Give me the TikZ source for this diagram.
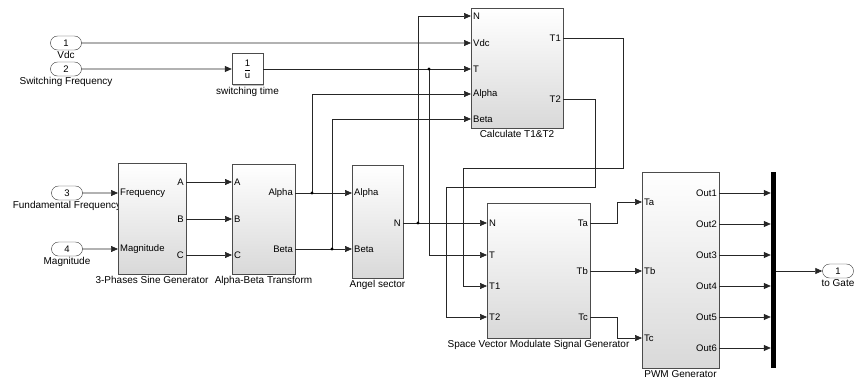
\documentclass[tikz,border=0pt]{standalone}
\usepackage{amsmath}
\usepackage{fontspec}
\setmainfont{Liberation Sans}
\usetikzlibrary{arrows.meta,positioning,shapes.misc,shadows}

\begin{document}
\begin{tikzpicture}[
    x=1pt, y=-1pt,
    blk/.style={rectangle, draw=black!70, thin, top color=white, bottom color=gray!30, drop shadow={shadow xshift=1.2pt, shadow yshift=-1.2pt, fill=black!50}, inner sep=0pt},
    gain/.style={rectangle, draw=black!70, thin, fill=white, drop shadow={shadow xshift=1.2pt, shadow yshift=-1.2pt, fill=black!50}, inner sep=0pt, minimum width=31pt, minimum height=31pt, font=\fontsize{9.5}{10}\selectfont},
    inport/.style={rounded rectangle, draw=black!80, thin, fill=white, minimum width=31pt, minimum height=14pt, inner sep=0pt, font=\fontsize{9.5}{10}\selectfont},
    pin/.style={anchor=west, inner sep=2pt, font=\fontsize{9.5}{10}\selectfont},
    pout/.style={anchor=east, inner sep=2pt, font=\fontsize{9.5}{10}\selectfont},
    lbl/.style={inner sep=1pt, font=\fontsize{10}{12}\selectfont},
    sig/.style={draw=black!85, line width=0.7pt, -{Triangle[length=7pt,width=6pt]}}
]
\useasboundingbox (0,0) rectangle (855,381);

% inports
\node[inport] (in1) at (66,43) {1};
\node[lbl, below=0pt of in1] (in1Lbl) {Vdc};
\node[inport] (in2) at (66,69) {2};
\node[lbl, below=0pt of in2] (in2Lbl) {Switching Frequency};
\node[inport] (in3) at (67,193) {3};
\node[lbl, below=0pt of in3] (in3Lbl) {Fundamental Frequency};
\node[inport] (in4) at (67,249) {4};
\node[lbl, below=0pt of in4] (in4Lbl) {Magnitude};
\node[inport] (outG) at (838,271) {1};
\node[lbl, below=0pt of outG] (outGLbl) {to Gate};

% blocks
\node[gain] (inv) at (247.5,69) {$\dfrac{\text{1}}{\text{u}}$};
\node[lbl, below=1pt of inv] (invLbl) {switching time};
\node[blk, minimum width=92pt, minimum height=120pt] (calc) at (517,68) {};
\node[lbl, below=1pt of calc] (calcLbl) {Calculate T1\&T2};
\node[blk, minimum width=68pt, minimum height=111pt] (sg) at (152,218.5) {};
\node[lbl, below=1pt of sg] (sgLbl) {3-Phases Sine Generator};
\node[blk, minimum width=63pt, minimum height=110pt] (ab) at (263.5,219) {};
\node[lbl, below=1pt of ab] (abLbl) {Alpha-Beta Transform};
\node[blk, minimum width=51pt, minimum height=113pt] (sec) at (377.5,221.5) {};
\node[lbl, below=1pt of sec] (secLbl) {Angel sector};
\node[blk, minimum width=103pt, minimum height=135pt] (svm) at (538.5,270.5) {};
\node[lbl, below=1pt of svm] (svmLbl) {Space Vector Modulate Signal Generator};
\node[blk, minimum width=77pt, minimum height=196pt] (pwm) at (680.5,270) {};
\node[lbl, below=1pt of pwm] (pwmLbl) {PWM Generator};
\node[rectangle, fill=black, inner sep=0pt, minimum width=5pt, minimum height=196pt] (mux) at (773.5,270) {};

% ports
\node[pin] (calcN) at (471,16) {N};
\node[pin] (calcVdc) at (471,43) {Vdc};
\node[pin] (calcT) at (471,69) {T};
\node[pin] (calcAlpha) at (471,94) {Alpha};
\node[pin] (calcBeta) at (471,119) {Beta};
\node[pout] (calcT1) at (563,38) {T1};
\node[pout] (calcT2) at (563,99) {T2};

\node[pin] (sgFreq) at (118,193) {Frequency};
\node[pin] (sgMag) at (118,249) {Magnitude};
\node[pout] (sgA) at (186,182) {A};
\node[pout] (sgB) at (186,219) {B};
\node[pout] (sgC) at (186,255) {C};

\node[pin] (abA) at (232,182) {A};
\node[pin] (abB) at (232,219) {B};
\node[pin] (abC) at (232,255) {C};
\node[pout] (abAlpha) at (295,193) {Alpha};
\node[pout] (abBeta) at (295,249) {Beta};

\node[pin] (secAlpha) at (352,193) {Alpha};
\node[pin] (secBeta) at (352,249) {Beta};
\node[pout] (secN) at (403,223) {N};

\node[pin] (svmN) at (487,223) {N};
\node[pin] (svmT) at (487,255) {T};
\node[pin] (svmT1) at (487,286) {T1};
\node[pin] (svmT2) at (487,317) {T2};
\node[pout] (svmTa) at (590,223) {Ta};
\node[pout] (svmTb) at (590,271) {Tb};
\node[pout] (svmTc) at (590,317) {Tc};

\node[pin] (pwmTa) at (642,202) {Ta};
\node[pin] (pwmTb) at (642,271) {Tb};
\node[pin] (pwmTc) at (642,338) {Tc};
\foreach \k/\y in {1/193,2/224,3/255,4/286,5/317,6/348}
    \node[pout] (pwmOut\k) at (719,\y) {Out\k};

% branch points
\coordinate (jT) at (429,69);
\coordinate (jN) at (418,223);
\coordinate (jA) at (312,193);
\coordinate (jB) at (332,249);

% signals
\draw[sig] (in1) -- (calcVdc.west);
\draw[sig] (in2) -- (inv);
\draw[sig] (inv) -- (calcT.west);
\draw[sig] (jT) |- (svmT.west);
\draw[sig] (in3) -- (sgFreq.west);
\draw[sig] (in4) -- (sgMag.west);
\draw[sig] (sgA.east) -- (abA.west);
\draw[sig] (sgB.east) -- (abB.west);
\draw[sig] (sgC.east) -- (abC.west);
\draw[sig] (abAlpha.east) -- (secAlpha.west);
\draw[sig] (abBeta.east) -- (secBeta.west);
\draw[sig] (jA) |- (calcAlpha.west);
\draw[sig] (jB) |- (calcBeta.west);
\draw[sig] (secN.east) -- (svmN.west);
\draw[sig] (jN) |- (calcN.west);
\draw[sig] (calcT1.east) -| (623,168) -| (463,286) -- (svmT1.west);
\draw[sig] (calcT2.east) -| (595,187) -| (446,317) -- (svmT2.west);
\draw[sig] (svmTa.east) -| (617,202) -- (pwmTa.west);
\draw[sig] (svmTb.east) -- (pwmTb.west);
\draw[sig] (svmTc.east) -| (617,338) -- (pwmTc.west);
\foreach \k in {1,...,6}
    \draw[sig] (pwmOut\k.east) -- (pwmOut\k.east -| mux.west);
\draw[sig] (mux.east |- outG) -- (outG);

\foreach \j in {jT,jN,jA,jB}
    \fill[black] (\j) circle (1.6);
\end{tikzpicture}
\end{document}
